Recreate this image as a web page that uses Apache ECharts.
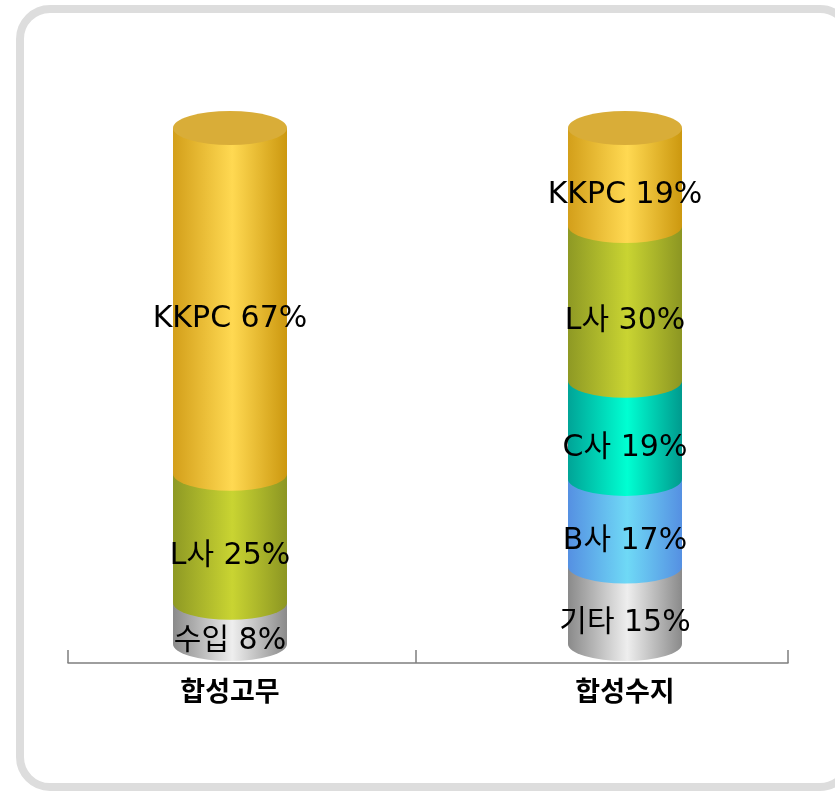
<!DOCTYPE html>
<html>
<head>
<meta charset="utf-8">
<script src="https://cdn.jsdelivr.net/npm/echarts@6/dist/echarts.min.js"></script>
<style>
  html, body { margin: 0; padding: 0; background: #ffffff; }
  #chart { width: 835px; height: 792px; }
</style>
</head>
<body>
<div id="chart"></div>
<script>
// ---- data ----
const categories = ['합성고무', '합성수지'];
const rubberNames = ['수입', 'L사', 'KKPC'];
const rubberValues = [8, 25, 67];
const resinNames = ['기타', 'B사', 'C사', 'L사', 'KKPC'];
const resinValues = [15, 17, 19, 30, 19];

// ---- styling ----
const palette = {
  '수입': ['#8a8a8a', '#eeeeee', '#8a8a8a'],
  '기타': ['#8a8a8a', '#eeeeee', '#8a8a8a'],
  'L사': ['#8e9924', '#c9d432', '#8c9622'],
  'KKPC': ['#d39f1a', '#ffd952', '#cc980f'],
  'C사': ['#00a497', '#00ffd2', '#009a8e'],
  'B사': ['#5590e2', '#6fd9f6', '#5590e2']
};
const capColor = '#d9ad38';
const RX = 57, RY = 17;

// build stacked segment items from the arrays
function buildItems(catIndex, names, values) {
  const items = [];
  let acc = 0;
  names.forEach((n, i) => {
    const start = acc;
    acc += values[i];
    items.push({ value: [catIndex, start, acc, values[i], i === names.length - 1 ? 1 : 0], name: n });
  });
  return items;
}
const segData = buildItems(0, rubberNames, rubberValues).concat(buildItems(1, resinNames, resinValues));

function renderItem(params, api) {
  const cat = api.value(0);
  const start = api.value(1);
  const end = api.value(2);
  const val = api.value(3);
  const isTop = api.value(4) === 1;
  const name = segData[params.dataIndex].name;
  const pB = api.coord([cat, start]);
  const pT = api.coord([cat, end]);
  const x = pB[0], yB = pB[1], yT = pT[1];
  const cols = palette[name];
  const grad = {
    type: 'linear', x: 0, y: 0, x2: 1, y2: 0,
    colorStops: [
      { offset: 0, color: cols[0] },
      { offset: 0.52, color: cols[1] },
      { offset: 1, color: cols[2] }
    ]
  };
  const body = 'M ' + (x - RX) + ' ' + yT + ' L ' + (x + RX) + ' ' + yT +
    ' L ' + (x + RX) + ' ' + yB + ' A ' + RX + ' ' + RY + ' 0 0 1 ' + (x - RX) + ' ' + yB + ' Z';
  const children = [{
    type: 'path',
    shape: { pathData: body },
    style: { fill: grad }
  }];
  if (isTop) {
    const cap = 'M ' + (x - RX) + ' ' + yT + ' A ' + RX + ' ' + RY + ' 0 1 1 ' + (x + RX) + ' ' + yT +
      ' A ' + RX + ' ' + RY + ' 0 1 1 ' + (x - RX) + ' ' + yT + ' Z';
    children.push({ type: 'path', shape: { pathData: cap }, style: { fill: capColor } });
  }
  children.push({
    type: 'text',
    z2: 100,
    style: {
      x: x, y: (yT + yB) / 2 + 18,
      text: name + ' ' + val + '%',
      fill: '#000000',
      font: '30px "DejaVu Sans", "Noto Sans CJK KR"',
      align: 'center', verticalAlign: 'middle'
    }
  });
  return { type: 'group', children: children };
}

const chart = echarts.init(document.getElementById('chart'), null, { renderer: 'canvas' });
chart.setOption({
  animation: false,
  backgroundColor: '#ffffff',
  graphic: [{
    type: 'rect', z: -10,
    shape: { x: 20, y: 9, width: 830, height: 778, r: 30 },
    style: { fill: '#ffffff', stroke: '#dddddd', lineWidth: 8 }
  }],
  grid: [
    { left: 32.5, right: 12.5, top: 128, bottom: 148 },
    { left: 68, right: 47, top: 128, bottom: 129 }
  ],
  xAxis: [
    {
      type: 'category', gridIndex: 0, data: categories,
      axisLine: { show: false }, axisTick: { show: false },
      axisLabel: { margin: 33, fontSize: 27, fontWeight: 'bold', color: '#000', fontFamily: 'Noto Sans CJK KR' }
    },
    {
      type: 'value', gridIndex: 1, min: 0, max: 720,
      axisLine: { show: true, lineStyle: { color: '#7f7f7f', width: 1.5 } },
      axisTick: { show: true, inside: true, length: 13, customValues: [0, 348, 720], lineStyle: { color: '#7f7f7f', width: 1.5 } },
      axisLabel: { show: false }, splitLine: { show: false }
    }
  ],
  yAxis: [
    { type: 'value', gridIndex: 0, min: 0, max: 100, show: false },
    { type: 'value', gridIndex: 1, min: 0, max: 1, show: false }
  ],
  series: [{
    type: 'custom',
    xAxisIndex: 0, yAxisIndex: 0,
    renderItem: renderItem,
    encode: { x: 0, y: [1, 2] },
    data: segData
  }]
});
</script>
</body>
</html>
